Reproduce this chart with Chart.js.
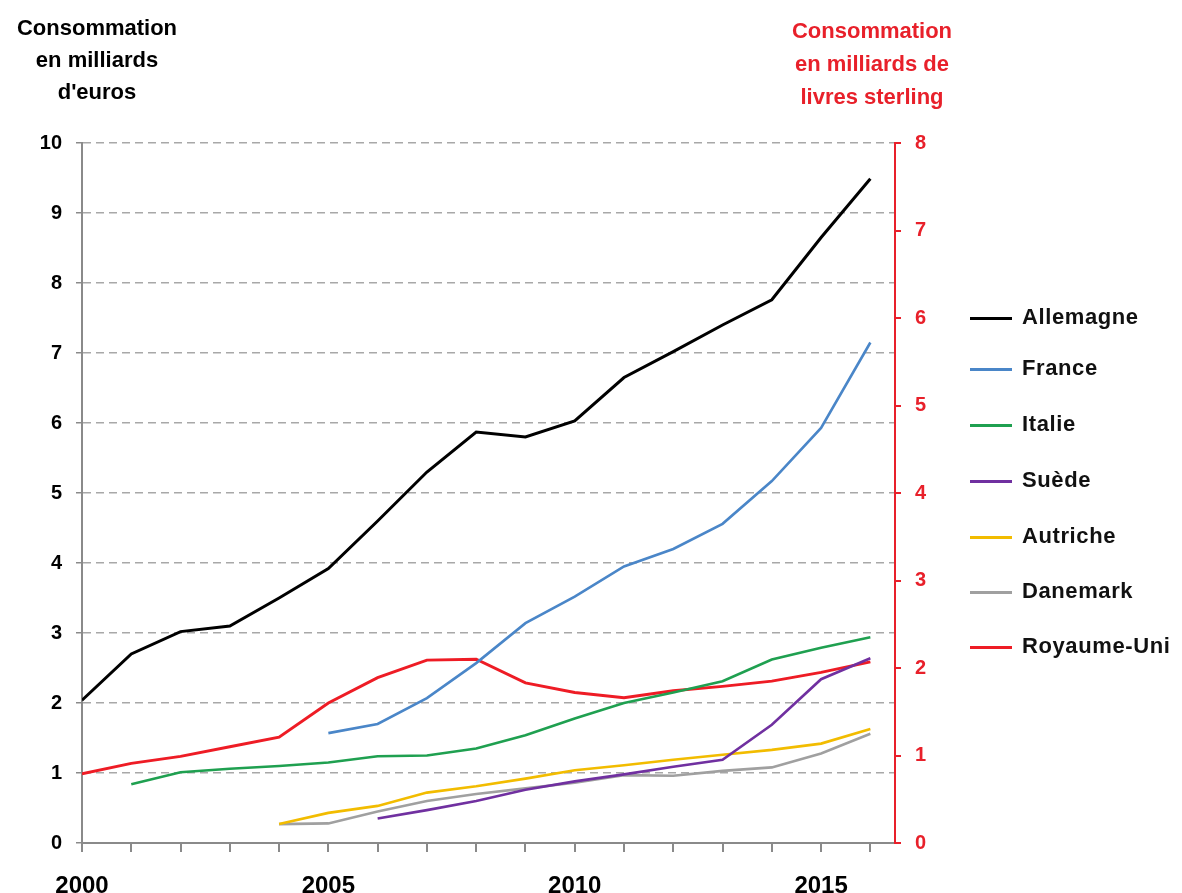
<!DOCTYPE html>
<html>
<head>
<meta charset="utf-8">
<script src="https://cdn.jsdelivr.net/npm/chart.js@4.4.0/dist/chart.umd.min.js"></script>
<style>
  body { margin: 0; background: #fff; font-family: "Liberation Sans", Arial, sans-serif; }
  #wrap { position: relative; width: 1182px; height: 893px; overflow: hidden; }
  #chart { position: absolute; left: 0; top: 0; }
  .title { position: absolute; font-weight: bold; font-size: 22px; text-align: center; line-height: 32px; }
  #tl { left: 0; top: 12px; width: 194px; color: #000; }
  #tr { left: 772px; top: 14px; width: 200px; color: #e8202a; line-height: 33px; }
  #legend { position: absolute; left: 970px; top: 300px; }
  .item { position: absolute; left: 0; width: 220px; height: 36px; }
  .item span.sw { position: absolute; left: 0; top: 17px; width: 42px; height: 3px; }
  .item span.lb { position: absolute; left: 52px; top: 4px; font-weight: bold; font-size: 22px; letter-spacing: 0.6px; color: #111; }
</style>
</head>
<body>
<div id="wrap">
  <canvas id="chart" width="1182" height="893"></canvas>
  <div class="title" id="tl">Consommation<br>en milliards<br>d'euros</div>
  <div class="title" id="tr">Consommation<br>en milliards de<br>livres sterling</div>
  <div id="legend"></div>
</div>
<script>
// --- Données ---
const years = [2000, 2001, 2002, 2003, 2004, 2005, 2006, 2007, 2008, 2009, 2010, 2011, 2012, 2013, 2014, 2015, 2016];
const allemagne = [2.04, 2.7, 3.02, 3.1, 3.5, 3.92, 4.6, 5.3, 5.87, 5.8, 6.03, 6.65, 7.02, 7.4, 7.76, 8.65, 9.49];
const france = [null, null, null, null, null, 1.57, 1.7, 2.07, 2.57, 3.14, 3.52, 3.95, 4.2, 4.56, 5.17, 5.93, 7.15];
const italie = [null, 0.84, 1.01, 1.06, 1.1, 1.15, 1.24, 1.25, 1.35, 1.54, 1.78, 2.0, 2.15, 2.31, 2.62, 2.79, 2.94];
const suede = [null, null, null, null, null, null, 0.35, 0.47, 0.6, 0.76, 0.88, 0.98, 1.09, 1.19, 1.69, 2.34, 2.64];
const autriche = [null, null, null, null, 0.27, 0.43, 0.53, 0.72, 0.81, 0.92, 1.04, 1.11, 1.19, 1.26, 1.33, 1.42, 1.63];
const danemark = [null, null, null, null, 0.27, 0.28, 0.45, 0.6, 0.7, 0.78, 0.86, 0.97, 0.96, 1.03, 1.08, 1.28, 1.56];
// Royaume-Uni : axe de droite (milliards de livres sterling)
const royaumeUni = [0.79, 0.91, 0.99, 1.1, 1.21, 1.6, 1.89, 2.09, 2.1, 1.83, 1.72, 1.66, 1.74, 1.79, 1.85, 1.95, 2.07];

const leftTicks = [0, 1, 2, 3, 4, 5, 6, 7, 8, 9, 10];
const rightTicks = [0, 1, 2, 3, 4, 5, 6, 7, 8];
const yearLabels = [2000, 2005, 2010, 2015];

const series = [
  { label: "Allemagne", data: allemagne, color: "#000000", axis: "y" },
  { label: "France", data: france, color: "#4a86c8", axis: "y" },
  { label: "Italie", data: italie, color: "#1fa050", axis: "y" },
  { label: "Suède", data: suede, color: "#7030a0", axis: "y" },
  { label: "Autriche", data: autriche, color: "#f2bc00", axis: "y" },
  { label: "Danemark", data: danemark, color: "#a0a0a0", axis: "y" },
  { label: "Royaume-Uni", data: royaumeUni, color: "#ee1c25", axis: "y2" }
];

function points(vals) {
  return years.map((yr, i) => ({ x: yr, y: vals[i] })).filter(p => p.y !== null);
}

// Légende en HTML
const legendTops = [0, 51, 107, 163, 219, 274, 329];
const legend = document.getElementById("legend");
series.forEach((s, i) => {
  const d = document.createElement("div");
  d.className = "item";
  d.style.top = legendTops[i] + "px";
  d.innerHTML = '<span class="sw" style="background:' + s.color + '"></span><span class="lb">' + s.label + '</span>';
  legend.appendChild(d);
});

const tickFont = { family: "Liberation Sans", size: 20, weight: "bold" };

new Chart(document.getElementById("chart"), {
  type: "line",
  data: {
    datasets: series.map(s => ({
      label: s.label,
      data: points(s.data),
      borderColor: s.color,
      borderWidth: s.label === "Allemagne" || s.label === "Royaume-Uni" ? 3 : 2.6,
      pointRadius: 0,
      tension: 0,
      fill: false,
      yAxisID: s.axis
    }))
  },
  options: {
    responsive: false,
    animation: false,
    layout: { padding: { top: 143, left: 0, right: 0, bottom: 0 } },
    plugins: { legend: { display: false }, tooltip: { enabled: false } },
    scales: {
      x: {
        type: "linear",
        min: 2000,
        max: 2016.5,
        afterBuildTicks: (scale) => { scale.ticks = years.map(v => ({ value: v })); },
        afterFit: (scale) => { scale.height = 50; },
        ticks: {
          autoSkip: false,
          maxRotation: 0,
          padding: 20,
          color: "#000",
          font: { family: "Liberation Sans", size: 24, weight: "bold" },
          callback: (v) => yearLabels.includes(v) ? String(v) : ""
        },
        grid: { drawOnChartArea: false, drawTicks: true, tickLength: 9, color: "#8a8a8a", lineWidth: 2 },
        border: { color: "#8a8a8a", width: 2 }
      },
      y: {
        position: "left",
        min: 0,
        max: 10,
        afterBuildTicks: (scale) => { scale.ticks = leftTicks.map(v => ({ value: v })); },
        afterFit: (scale) => { scale.width = 82; },
        ticks: { color: "#000", font: tickFont, padding: 14 },
        grid: { color: "#a8a8a8", lineWidth: 1.5, tickLength: 6, tickColor: "#8a8a8a" },
        border: { color: "#8a8a8a", width: 2, dash: [8, 5] }
      },
      y2: {
        position: "right",
        min: 0,
        max: 8,
        afterBuildTicks: (scale) => { scale.ticks = rightTicks.map(v => ({ value: v })); },
        afterFit: (scale) => { scale.width = 1182 - 895; },
        ticks: { color: "#e8202a", font: tickFont, padding: 14 },
        grid: { drawOnChartArea: false, tickLength: 6, color: "#e8202a", lineWidth: 2 },
        border: { color: "#e8202a", width: 2 }
      }
    }
  }
});
</script>
</body>
</html>
